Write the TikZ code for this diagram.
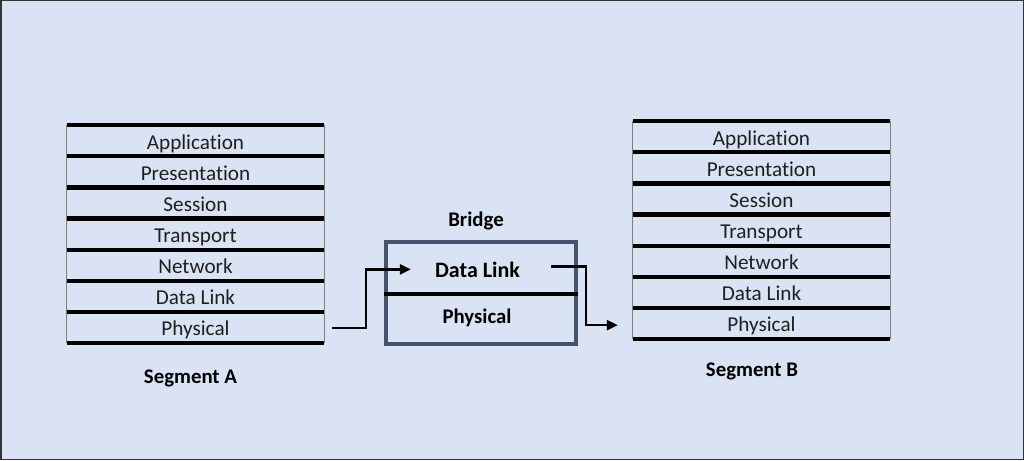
\documentclass[tikz,border=0pt]{standalone}
\usepackage{fontspec}
\setmainfont{Carlito}[Ligatures={NoCommon}]
\usetikzlibrary{arrows.meta}
\definecolor{bgc}{HTML}{DAE3F3}
\definecolor{bridgec}{HTML}{44546A}
\definecolor{sidec}{HTML}{7F7F7F}
\tikzset{
  layer/.style={minimum width=257pt,minimum height=31.1pt,inner sep=0pt,text height=19pt,text depth=2pt,text=black!88,font=\fontsize{21.2}{24}\selectfont},
  sep/.style={line width=4.2pt,black},
  side/.style={line width=0.8pt,sidec},
  lbl/.style={font=\fontsize{20.8}{24}\selectfont\bfseries,inner sep=0pt,anchor=base},
  flow/.style={line width=2.3pt,-{Triangle[length=11pt,width=10pt]}}
}
\begin{document}
\begin{tikzpicture}[x=1pt,y=-1pt]
\fill[bgc] (0,0) rectangle (1024,460);
\draw[line width=1.5pt,black!80] (0.75,0.75) rectangle (1023.25,459.25);
\useasboundingbox (0,0) rectangle (1024,460);
% Segment A
\foreach \t [count=\i] in {Application,Presentation,Session,Transport,Network,Data Link,Physical}{
  \node[layer] (a\i) at (195.5,{125+31.1*(\i-0.5)}) {\t};
}
\draw[side] (a1.north west) -- (a7.south west);
\draw[side] (a1.north east) -- (a7.south east);
\draw[sep] (a1.north west) -- (a1.north east);
\foreach \i in {1,...,7}{\draw[sep] (a\i.south west) -- (a\i.south east);}
\node[lbl] (sa) at (190.5,383) {Segment A};
% Segment B
\foreach \t [count=\i] in {Application,Presentation,Session,Transport,Network,Data Link,Physical}{
  \node[layer] (b\i) at (761.5,{121+31.1*(\i-0.5)}) {\t};
}
\draw[side] (b1.north west) -- (b7.south west);
\draw[side] (b1.north east) -- (b7.south east);
\draw[sep] (b1.north west) -- (b1.north east);
\foreach \i in {1,...,7}{\draw[sep] (b\i.south west) -- (b\i.south east);}
\node[lbl] (sb) at (752,376) {Segment B};
% Bridge
\node[draw=bridgec,line width=4pt,minimum width=190pt,minimum height=102pt,inner sep=0pt] (br) at (481,293) {};
\draw[line width=3.5pt,black] (br.west |- 0,294) coordinate (ml) -- (br.east |- 0,294) coordinate (mr);
\node[lbl] (brl) at (476,226) {Bridge};
\node[lbl,font=\fontsize{22}{24}\selectfont\bfseries] (bdl) at (477.5,277) {Data Link};
\node[lbl] (bph) at (477,323) {Physical};
% Arrows
\coordinate (s1) at ([xshift=8pt,yshift=-1pt]a7.east);
\coordinate (e1) at ([xshift=-24pt]bdl.west);
\coordinate (k1) at (366,0 |- e1);
\draw[flow] (s1) -| (k1) -- (e1);
\coordinate (s2) at ([xshift=31pt,yshift=3pt]bdl.east);
\coordinate (e2) at ([xshift=-15pt,yshift=-2pt]b7.west);
\coordinate (k2) at (586,0 |- e2);
\draw[flow] (s2) -| (k2) -- (e2);
\end{tikzpicture}
\end{document}
